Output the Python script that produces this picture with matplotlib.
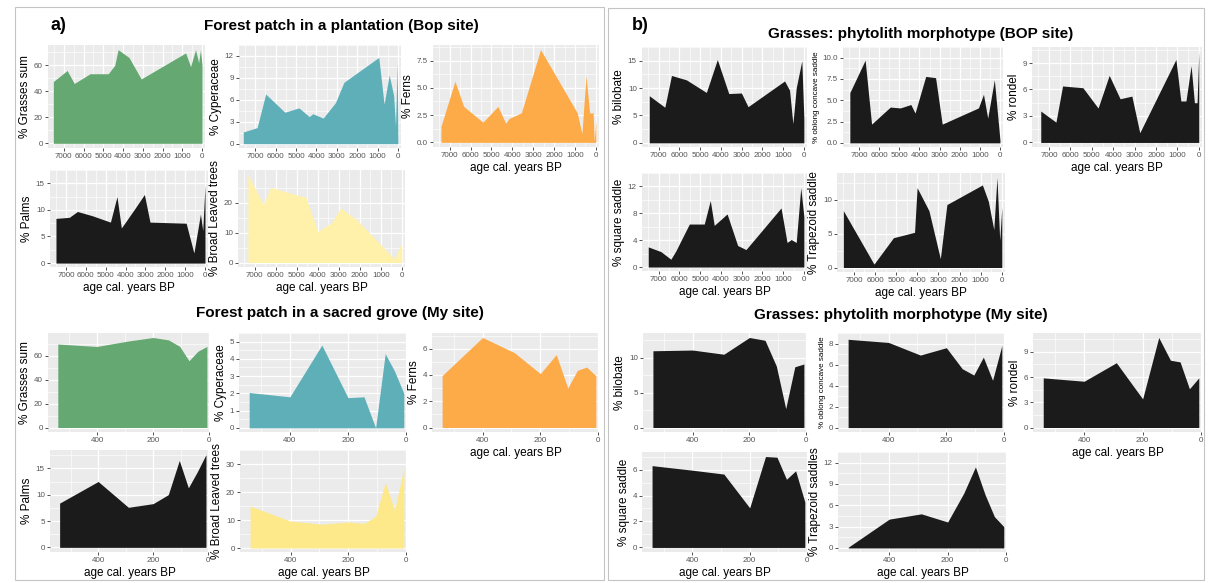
import numpy as np
import matplotlib.pyplot as plt
from matplotlib.patches import Rectangle

W, H = 1209, 583
plt.rcParams['font.family'] = ['Liberation Sans', 'DejaVu Sans']

# ── Bop site (plantation) ────────────────────────────────────────────────
grasses_bop_age = [7530, 6830, 6470, 5670, 4750, 4420, 4250, 3700, 3080, 830, 580, 330, 170, 80, 0]
grasses_bop = [47.5, 56, 46, 53.5, 53.5, 60, 72, 66, 49.5, 69.5, 59, 72, 62, 72, 60]

cyper_bop_age = [7590, 6910, 6490, 5550, 4860, 4350, 4180, 3670, 3070, 2650, 940, 680, 430, 210, 120, 35, 0]
cyper_bop = [1.6, 2.2, 6.8, 4.3, 4.9, 3.7, 4.1, 3.5, 5.6, 8.4, 11.8, 5.4, 9.4, 6.6, 2.4, 11.1, 0.1]

ferns_bop_age = [7420, 6750, 6330, 5410, 4690, 4320, 4150, 3570, 2650, 890, 670, 470, 300, 130, 80, 0]
ferns_bop = [1.45, 5.6, 3.3, 1.85, 3.3, 1.75, 2.2, 2.7, 8.5, 2.7, 0.8, 6.1, 2.7, 2.7, 0.05, 2.0]

palms_bop_age = [7500, 6830, 6420, 5670, 4760, 4430, 4210, 3520, 3050, 2770, 950, 560, 230, 115, 0]
palms_bop = [8.4, 8.6, 9.7, 8.9, 7.7, 12.5, 6.6, 10.3, 12.9, 7.7, 7.5, 1.9, 9.2, 6.1, 14.7]

broad_bop_age = [7330, 6580, 6250, 5000, 4580, 4000, 3330, 2920, 2170, 330, 80, 0]
broad_bop = [29.4, 19.3, 25.1, 22.5, 21.9, 10.4, 13.4, 18.2, 14.4, 1.1, 5.9, 4.8]

bilob_bop_age = [7450, 6700, 6380, 5660, 4700, 4170, 3620, 3010, 2690, 930, 690, 530, 370, 100, 0]
bilob_bop = [8.6, 6.5, 12.3, 11.5, 9.2, 15.2, 9.0, 9.1, 6.6, 11.3, 9.6, 3.5, 10.0, 15.0, 4.3]

oblong_bop_age = [7460, 6700, 6380, 5450, 4950, 4430, 4220, 3690, 3200, 2870, 1070, 820, 610, 280, 0]
oblong_bop = [5.9, 9.7, 2.2, 4.2, 4.1, 4.5, 3.5, 7.8, 7.65, 2.2, 4.1, 5.7, 2.9, 7.4, 0.3]

rondel_bop_age = [7390, 6680, 6370, 5420, 4710, 4190, 3680, 3130, 2760, 1070, 840, 600, 360, 205, 80, 0]
rondel_bop = [3.56, 2.3, 6.4, 6.2, 3.9, 7.6, 4.95, 5.25, 1.1, 9.4, 4.7, 4.7, 8.7, 4.5, 4.5, 10.3]

square_bop_age = [7500, 6890, 6410, 6170, 5520, 4800, 4510, 4320, 3700, 3190, 2790, 1100, 810, 610, 370, 150, 0]
square_bop = [3.0, 2.3, 1.16, 2.4, 6.4, 6.4, 9.9, 6.2, 7.9, 3.2, 2.6, 8.8, 3.65, 4.1, 3.65, 11.8, 7.5]

trapez_bop_age = [7500, 6050, 5130, 4750, 4130, 4010, 3450, 2910, 2600, 920, 640, 380, 230, 100, 0]
trapez_bop = [8.4, 0.5, 4.4, 4.7, 5.2, 11.8, 8.4, 1.3, 9.3, 12.2, 9.8, 5.6, 13.3, 4.0, 8.9]

# ── My site (sacred grove) ───────────────────────────────────────────────
my_age = [540, 400, 290, 200, 145, 105, 72, 40, 8]
grasses_my = [70, 68, 72.5, 75.5, 73.5, 68, 56, 64, 68]
cyper_my = [2.05, 1.8, 4.8, 1.75, 1.8, 0.0, 4.3, 3.3, 2.0]
ferns_my = [3.95, 6.85, 5.7, 4.1, 5.55, 3.0, 4.35, 4.6, 3.95]
palms_my = [8.4, 12.5, 7.6, 8.3, 10.0, 16.5, 11.3, 14.3, 17.6]
broad_my = [15.0, 9.6, 8.5, 9.3, 8.8, 11.4, 23.5, 13.4, 28.4]
bilob_my = [11.0, 11.1, 10.5, 12.9, 12.5, 8.8, 2.7, 8.7, 9.1]
oblong_my = [8.4, 8.1, 6.9, 7.6, 5.6, 5.0, 6.7, 4.5, 7.8]
rondel_my = [5.9, 5.5, 7.7, 3.4, 10.7, 8.0, 7.8, 4.6, 5.9]
square_my = [6.3, 5.95, 5.65, 3.05, 7.0, 6.95, 5.25, 5.9, 3.5]
trapez_my = [0.1, 4.05, 4.8, 3.65, 7.7, 11.4, 7.5, 4.4, 3.0]

GREEN, TEAL, ORANGE, BLACK = '#66A872', '#5FAFB9', '#FDAA48', '#1B1B1B'
YELLOW_BOP, YELLOW_MY = '#FFF1AA', '#FDE98A'

SITES = {
    'bop': dict(xlim=(7800, -150), major=np.arange(7000, -1, -1000), minor=np.arange(7500, 0, -1000)),
    'my': dict(xlim=(575, -3), major=[400, 200, 0], minor=[500, 300, 100]),
}

fig = plt.figure(figsize=(W / 100, H / 100), dpi=100)


def panel(box, ages, vals, color, ylab, yticks, site, xlab=False, ylab_size=8.5, fmt='{:g}'):
    x0, y0, x1, y1 = box
    ax = fig.add_axes([x0 / W, 1 - y1 / H, (x1 - x0) / W, (y1 - y0) / H])
    ax.set_facecolor('#EBEBEB')
    ax.fill_between(ages, vals, 0, color=color, lw=0, zorder=3)

    s = SITES[site]
    ax.set_xlim(s['xlim'])
    top = max(vals)
    ax.set_ylim(-0.05 * top, 1.05 * top)

    ax.set_xticks(s['major'])
    ax.set_xticks(s['minor'], minor=True)
    ax.set_xticklabels([str(v) for v in s['major']])
    step = yticks[1] - yticks[0]
    ax.set_yticks(yticks)
    ax.set_yticklabels([fmt.format(v) for v in yticks])
    ax.set_yticks([v + step / 2 for v in yticks], minor=True)

    ax.grid(which='major', color='white', lw=0.9, zorder=1)
    ax.grid(which='minor', color='white', lw=0.45, zorder=1)
    for sp in ax.spines.values():
        sp.set_visible(False)
    ax.tick_params(which='major', length=2.2, width=0.6, color='#333333',
                   labelsize=5.8, labelcolor='#555555', pad=1.5)
    ax.tick_params(which='minor', length=0)
    ax.set_ylabel(ylab, fontsize=ylab_size, labelpad=2)
    if xlab:
        ax.set_xlabel('age cal. years BP', fontsize=8.5, labelpad=2)
    return ax


# ── a) pollen / phytolith groups ─────────────────────────────────────────
panel((48, 45, 205, 148), grasses_bop_age, grasses_bop, GREEN, '% Grasses sum', [0, 20, 40, 60], 'bop')
panel((239, 45, 401, 148), cyper_bop_age, cyper_bop, TEAL, '% Cyperaceae', [0, 3, 6, 9, 12], 'bop')
panel((433, 45, 599, 147), ferns_bop_age, ferns_bop, ORANGE, '% Ferns', [0, 2.5, 5, 7.5], 'bop',
      xlab=True, fmt='{:.1f}')
panel((50, 170, 208, 267), palms_bop_age, palms_bop, BLACK, '% Palms', [0, 5, 10, 15], 'bop', xlab=True)
panel((238, 170, 405, 267), broad_bop_age, broad_bop, YELLOW_BOP, '% Broad Leaved trees', [0, 10, 20], 'bop',
      xlab=True)

panel((48, 333, 210, 432), my_age, grasses_my, GREEN, '% Grasses sum', [0, 20, 40, 60], 'my')
panel((239, 333, 407, 432), my_age, cyper_my, TEAL, '% Cyperaceae', [0, 1, 2, 3, 4, 5], 'my')
panel((432, 333, 599, 432), my_age, ferns_my, ORANGE, '% Ferns', [0, 2, 4, 6], 'my', xlab=True)
panel((50, 450, 209, 552), my_age, palms_my, BLACK, '% Palms', [0, 5, 10, 15], 'my', xlab=True)
panel((240, 450, 407, 552), my_age, broad_my, YELLOW_MY, '% Broad Leaved trees', [0, 10, 20, 30], 'my',
      xlab=True)

# ── b) grass phytolith morphotypes ───────────────────────────────────────
panel((642, 47, 807, 147), bilob_bop_age, bilob_bop, BLACK, '% bilobate', [0, 5, 10, 15], 'bop')
panel((843, 47, 1003, 147), oblong_bop_age, oblong_bop, BLACK, '% oblong concave saddle', [0, 2.5, 5, 7.5, 10],
      'bop', ylab_size=5.8, fmt='{:.1f}')
panel((1032, 47, 1202, 147), rondel_bop_age, rondel_bop, BLACK, '% rondel', [0, 3, 6, 9], 'bop', xlab=True)
panel((642, 173, 807, 271), square_bop_age, square_bop, BLACK, '% square saddle', [0, 4, 8, 12], 'bop', xlab=True)
panel((837, 173, 1005, 272), trapez_bop_age, trapez_bop, BLACK, '% Trapezoid saddle', [0, 5, 10], 'bop',
      xlab=True)

panel((643, 333, 807, 432), my_age, bilob_my, BLACK, '% bilobate', [0, 5, 10], 'my')
panel((838, 333, 1005, 432), my_age, oblong_my, BLACK, '% oblong concave saddle', [0, 2, 4, 6, 8], 'my',
      ylab_size=5.8)
panel((1033, 333, 1202, 432), my_age, rondel_my, BLACK, '% rondel', [0, 3, 6, 9], 'my', xlab=True)
panel((642, 452, 808, 552), my_age, square_my, BLACK, '% square saddle', [0, 2, 4, 6], 'my', xlab=True)
panel((838, 452, 1007, 552), my_age, trapez_my, BLACK, '% Trapezoid saddles', [0, 3, 6, 9, 12], 'my',
      xlab=True)

# titles and frame
def ftext(x, y, s, **kw):
    fig.text(x / W, 1 - y / H, s, ha='center', va='center', fontweight='bold', **kw)

ftext(58, 25, 'a)', fontsize=13)
ftext(341, 26, 'Forest patch in a plantation (Bop site)', fontsize=11)
ftext(340, 313, 'Forest patch in a sacred grove (My site)', fontsize=11)
ftext(640, 25, 'b)', fontsize=13)
ftext(921, 34, 'Grasses: phytolith morphotype (BOP site)', fontsize=11)
ftext(901, 315, 'Grasses: phytolith morphotype (My site)', fontsize=11)

for (bx0, by0, bx1, by1) in [(15, 7, 604, 580), (608, 8, 1204, 580)]:
    fig.add_artist(Rectangle((bx0 / W, 1 - by1 / H), (bx1 - bx0) / W, (by1 - by0) / H,
                             transform=fig.transFigure, fill=False, edgecolor='#C4C4C4', lw=0.8))

fig.savefig('out.png', dpi=100)
